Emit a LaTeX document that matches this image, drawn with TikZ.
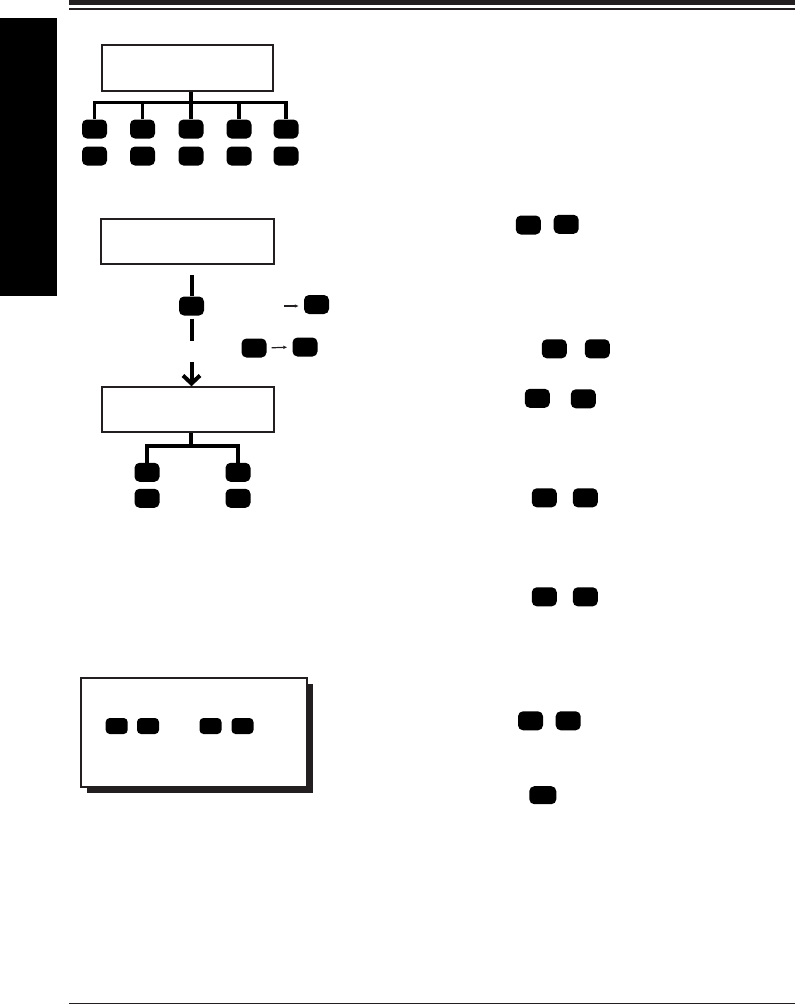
\documentclass[tikz,border=0pt]{standalone}
\usetikzlibrary{arrows.meta,shadows}
\definecolor{ink}{HTML}{231F20}

\begin{document}
\begin{tikzpicture}[x=1pt,y=-1pt,>={Straight Barb[length=8pt,width=17pt]},
  box/.style={draw=ink,line width=1.5pt,minimum width=172pt,minimum height=45pt,inner sep=0pt},
  key/.style={fill=black,rounded corners=5pt,minimum width=25pt,minimum height=19pt,inner sep=0pt},
  keysm/.style={key,minimum width=22pt,minimum height=16pt,rounded corners=4pt},
  bar/.style={line width=3.8pt,black},
  ptr/.style={line width=1.2pt,ink,-{Latex[length=4pt,width=3.5pt]},shorten <=5pt,shorten >=5pt}]
\useasboundingbox (0,0) rectangle (795,1005);
\fill[ink] (69,0) rectangle (795,5);
\draw[ink,line width=1.3pt] (69,9) -- (795,9);
\fill[black] (0,18) rectangle (57,296);
\draw[ink,line width=1.2pt] (69,1003.5) -- (795,1003.5);

\node[box,minimum width=171pt,minimum height=46pt] (box1) at (187.5,68) {};
\coordinate (j1) at (191,102.5);
\foreach \x [count=\i] in {94.5,142.5,191,239,286} {
  \node[key] (k\i) at (\x,129) {};
  \node[key] (l\i) at (\x,156) {};
}
\draw[bar] (j1 |- box1.south) -- (j1);
\draw[bar] (k1.north) |- (j1) -| (k5.north);
\foreach \k in {k2,k3,k4} \draw[bar] (\k.north) -- (\k.north |- j1);

\node[box,minimum width=173pt] (box2) at (187.5,241.5) {};
\node[key] (kd) at (191.5,306) {};
\node[box] (box3) at (188,409.5) {};
\draw[bar,line width=4pt,shorten <=10pt] (kd.north |- box2.south) -- (kd.north);
\draw[bar,line width=4pt,shorten <=3pt,shorten >=45pt] (kd.south) -- (kd.south |- box3.north);
\draw[bar,line width=4pt,shorten <=46pt,->] (kd.south) -- (kd.south |- box3.north);

\coordinate (a1) at (284,306);
\node[key] (kr) at (316.5,304.5) {};
\draw[ptr,shorten <=0pt] (a1) -- (kr.west |- a1);
\node[key] (kp) at (254,348) {};
\node[key] (kq) at (305,347) {};
\draw[ptr] (kp.east) -- (kq.west);

\coordinate (j3) at (191,446);
\node[key] (m1) at (147,472.3) {};
\node[key] (m2) at (238,472.3) {};
\node[key] (n1) at (147,498.3) {};
\node[key] (n2) at (238,498.3) {};
\draw[bar] (j3 |- box3.south) -- (j3);
\draw[bar] (m1.north) |- (j3) -| (m2.north);

\node[box,minimum width=226pt,minimum height=109pt,line width=2pt,fill=white,
  drop shadow={shadow xshift=6pt,shadow yshift=-6pt,fill=ink,opacity=1}] (scr) at (194,732.5) {};
\foreach \x [count=\i] in {116.7,148,210.5,242.5}
  \node[keysm] (s\i) at (\x,726) {};

\node[key] (r1) at (528.3,225) {};
\node[key] (r2) at (566.2,224.3) {};
\node[key] (r3) at (554.3,348.8) {};
\node[key] (r4) at (597.3,348.8) {};
\node[key] (r5) at (537.3,398.3) {};
\node[key] (r6) at (583.3,398.8) {};
\node[key] (r7) at (544.3,497.8) {};
\node[key] (r8) at (585.3,497.8) {};
\node[key] (r9) at (544.3,596.8) {};
\node[key] (r10) at (585.3,596.8) {};
\node[key] (r11) at (530.5,720.8) {};
\node[key] (r12) at (568.2,720.8) {};
\node[key,minimum width=27pt,minimum height=18pt] (r13) at (542.8,795.2) {};
\end{tikzpicture}
\end{document}
